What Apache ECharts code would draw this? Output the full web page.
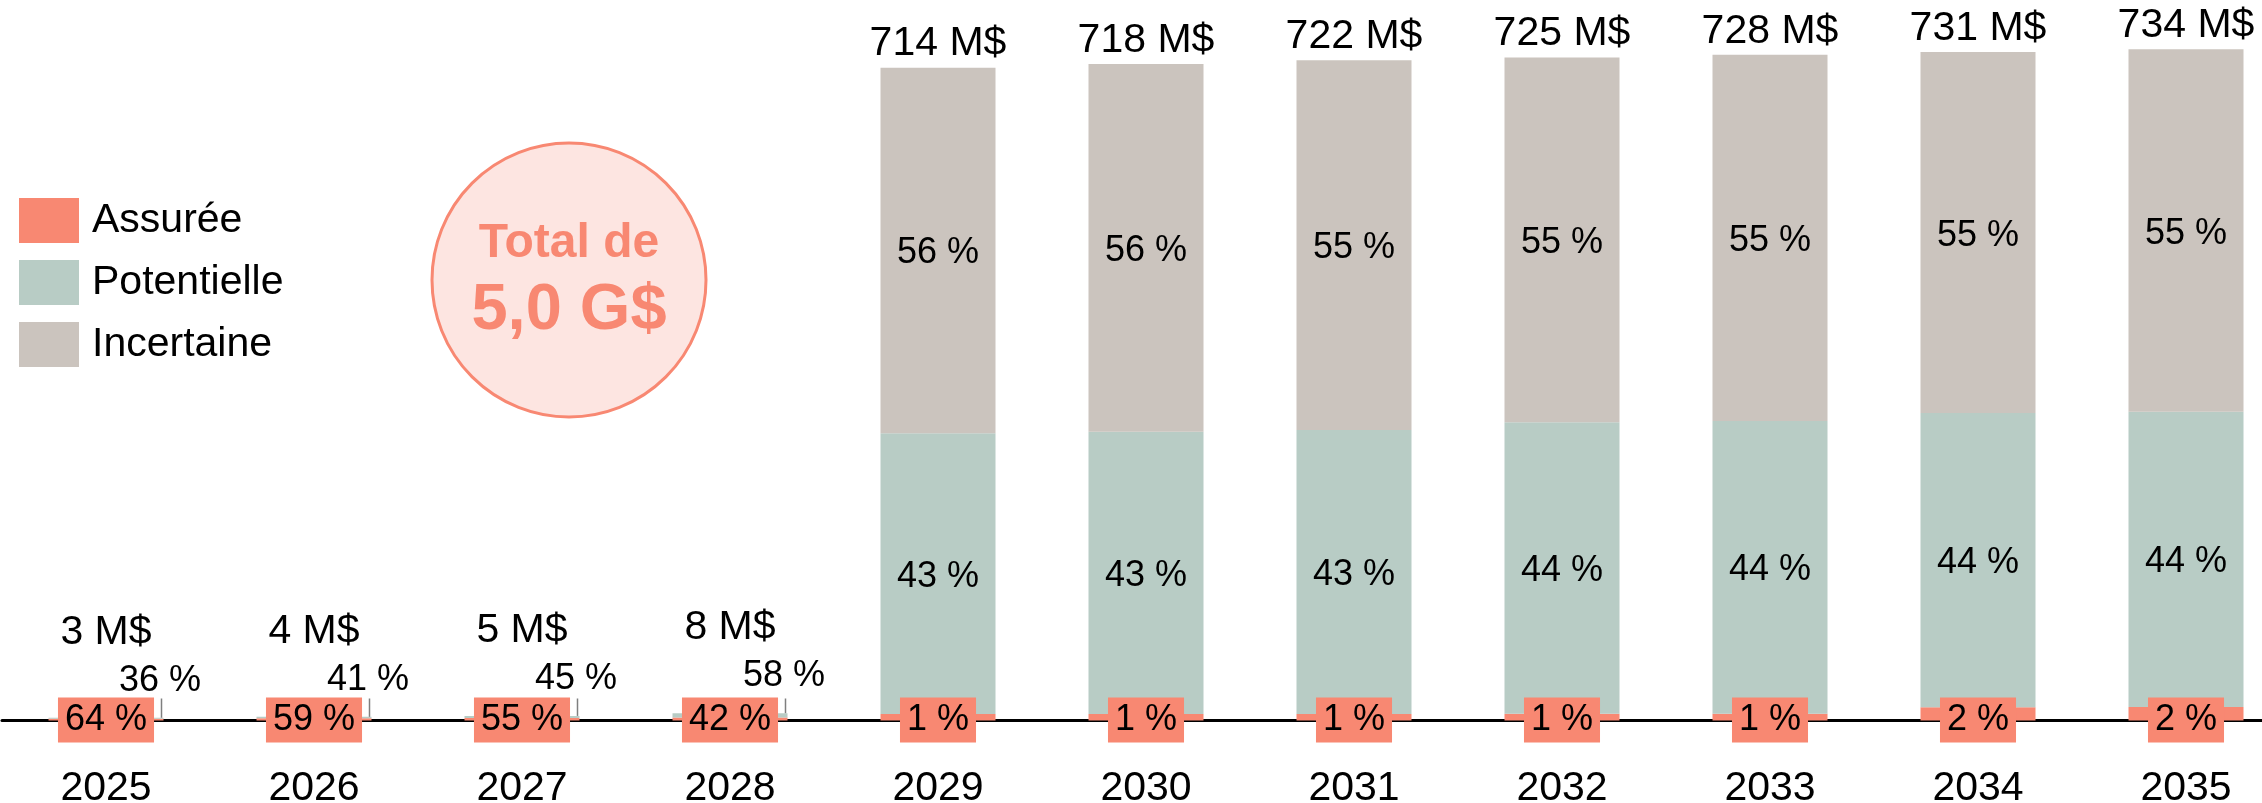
<!DOCTYPE html>
<html>
<head>
<meta charset="utf-8">
<script src="https://cdn.jsdelivr.net/npm/echarts@6/dist/echarts.min.js"></script>
<style>
  html, body { margin: 0; padding: 0; background: #fff; }
  #chart { width: 2262px; height: 803px; }
</style>
</head>
<body>
<div id="chart"></div>
<script>
// données
const years = ['2025', '2026', '2027', '2028', '2029', '2030', '2031', '2032', '2033', '2034', '2035'];
const totals = [3, 4, 5, 8, 714, 718, 722, 725, 728, 731, 734]; // M$
const assureePct = [64, 59, 55, 42, 1, 1, 1, 1, 1, 2, 2];
const potentiellePct = [36, 41, 45, 58, 43, 43, 43, 44, 44, 44, 44];
const incertainePct = [0, 0, 0, 0, 56, 56, 55, 55, 55, 55, 55];

const FONT = 'Liberation Sans, Arial, sans-serif';
const C_ASSUREE = '#F88872';
const C_POT = '#B8CCC5';
const C_INC = '#CBC4BE';

const chart = echarts.init(document.getElementById('chart'));

// valeurs des segments (M$)
const assureeVal = totals.map((t, i) => t * assureePct[i] / 100);
const potVal = totals.map((t, i) => t * potentiellePct[i] / 100);
const incVal = totals.map((t, i) => incertainePct[i] > 0 ? t - assureeVal[i] - potVal[i] : 0);
const isSmall = incertainePct.map(p => p === 0);

const pctLabel = { fontFamily: FONT, fontSize: 36, lineHeight: 36, color: '#000' };

const option = {
  animation: false,
  grid: { left: 2, top: 0, width: 2288, height: 720.5, outerBoundsMode: 'none', containLabel: false },
  legend: {
    orient: 'vertical',
    left: 19,
    top: 198,
    padding: 0,
    itemWidth: 60,
    itemHeight: 45,
    itemGap: 17,
    icon: 'rect',
    selectedMode: false,
    data: ['Assurée', 'Potentielle', 'Incertaine'],
    textStyle: { fontFamily: FONT, fontSize: 41, color: '#000', padding: [4, 0, 0, 8] }
  },
  xAxis: {
    type: 'category',
    data: years,
    axisTick: { show: false },
    axisLine: { lineStyle: { color: '#000', width: 3 } },
    axisLabel: { fontFamily: FONT, fontSize: 41, lineHeight: 41, color: '#000', margin: 48 }
  },
  yAxis: { type: 'value', min: 0, max: 788, show: false, splitLine: { show: false } },
  graphic: [
    { type: 'circle', shape: { cx: 569, cy: 280, r: 137 }, style: { fill: '#FDE5E1', stroke: C_ASSUREE, lineWidth: 3 }, z: 1 },
    { type: 'text', x: 569, y: 244, z: 2, style: { text: 'Total de', fill: C_ASSUREE, font: 'bold 48px ' + FONT, align: 'center', verticalAlign: 'middle' } },
    { type: 'text', x: 569, y: 311, z: 2, style: { text: '5,0 G$', fill: C_ASSUREE, font: 'bold 65px ' + FONT, align: 'center', verticalAlign: 'middle' } }
  ],
  series: [
    {
      name: 'Assurée', type: 'bar', stack: 'tot', barWidth: 115, barGap: '-100%',
      itemStyle: { color: C_ASSUREE },
      data: assureeVal.map((v, i) => ({
        value: v,
        label: {
          show: true, position: 'insideBottom', distance: 0, offset: [0, 22],
          formatter: assureePct[i] + ' %',
          backgroundColor: C_ASSUREE, padding: [5, 7, 4, 7], ...pctLabel
        }
      }))
    },
    {
      name: 'Potentielle', type: 'bar', stack: 'tot', barWidth: 115, barGap: '-100%',
      itemStyle: { color: C_POT },
      data: potVal.map((v, i) => ({
        value: v,
        label: isSmall[i]
          ? { show: true, position: 'top', distance: 19, offset: [54, 0], formatter: potentiellePct[i] + ' %', ...pctLabel }
          : { show: true, position: 'inside', offset: [0, 3], formatter: potentiellePct[i] + ' %', ...pctLabel }
      }))
    },
    {
      name: 'Incertaine', type: 'bar', stack: 'tot', barWidth: 115, barGap: '-100%',
      itemStyle: { color: C_INC },
      data: incVal.map((v, i) => ({
        value: v,
        label: { show: !isSmall[i], position: 'inside', offset: [0, 3], formatter: incertainePct[i] + ' %', ...pctLabel }
      }))
    },
    {
      // total au-dessus des barres
      name: 'Total', type: 'bar', barWidth: 115, barGap: '-100%', silent: true, z: 1,
      itemStyle: { color: 'rgba(0,0,0,0)' },
      data: totals.map((t, i) => ({
        value: t,
        label: {
          show: true, position: 'top', distance: isSmall[i] ? 65 : 3,
          formatter: t + ' M$', fontFamily: FONT, fontSize: 41, lineHeight: 41, color: '#000'
        }
      }))
    },
    {
      // traits de rappel pour les petites barres
      name: 'leader', type: 'custom', silent: true, z: 3,
      data: totals.map((t, i) => isSmall[i] ? [i, t] : [i, null]).filter(d => d[1] !== null),
      renderItem: (params, api) => {
        const top = api.coord([api.value(0), api.value(1)]);
        const base = api.coord([api.value(0), 0]);
        const x = top[0] + 115 / 2 - 2;
        return {
          type: 'line',
          shape: { x1: x, y1: base[1] - 22, x2: x, y2: top[1] },
          style: { stroke: '#7f7f7f', lineWidth: 1.5 }
        };
      }
    }
  ]
};

chart.setOption(option);
</script>
</body>
</html>
